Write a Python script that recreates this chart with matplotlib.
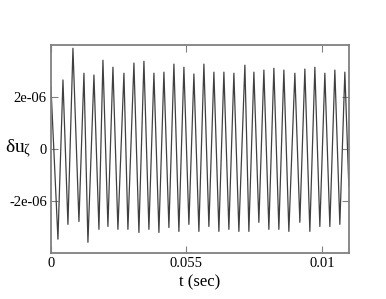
import matplotlib
matplotlib.use("Agg")
import matplotlib.pyplot as plt

plt.rcParams['font.family'] = ['Liberation Serif', 'DejaVu Serif']
plt.rcParams['mathtext.fontset'] = 'custom'
plt.rcParams['mathtext.rm'] = 'Liberation Serif'
plt.rcParams['mathtext.it'] = 'Liberation Serif'

# extrema of the signal (time in s, value in 1e-6)
t = [0.0, 0.000258, 0.000443, 0.000627, 0.000812, 0.001033, 0.001218, 0.001365,
     0.001587, 0.001771, 0.001919, 0.002103, 0.002288, 0.002472, 0.002694, 0.002841,
     0.003063, 0.003247, 0.003432, 0.003616, 0.003801, 0.003985, 0.004170, 0.004354,
     0.004539, 0.004723, 0.004908, 0.005092, 0.005277, 0.005461, 0.005646, 0.005830,
     0.006015, 0.006199, 0.006384, 0.006568, 0.006753, 0.006937, 0.007159, 0.007306,
     0.007491, 0.007675, 0.007860, 0.008044, 0.008229, 0.008413, 0.008598, 0.008782,
     0.009004, 0.009188, 0.009373, 0.009557, 0.009742, 0.009926, 0.010111, 0.010295,
     0.010480, 0.010664, 0.010849, 0.010996]
du = [2.39, -3.47, 2.66, -2.90, 3.88, -2.79, 2.92, -3.59,
      2.85, -3.09, 3.42, -2.98, 3.15, -3.09, 2.92, -3.09,
      3.31, -3.21, 3.38, -3.09, 2.92, -3.21, 2.96, -3.02,
      3.27, -3.17, 3.15, -2.90, 2.89, -3.17, 3.27, -2.98,
      2.96, -3.17, 2.96, -3.09, 2.92, -3.17, 3.23, -3.17,
      2.96, -2.82, 3.04, -3.09, 3.11, -3.09, 3.04, -3.17,
      2.92, -2.82, 3.08, -3.17, 3.15, -2.98, 2.92, -2.98,
      3.04, -2.90, 2.96, -1.44]
du = [v * 1e-6 for v in du]

xticks = [0, 0.005, 0.01]
xticklabels = ['0', '0.055', '0.01']
yticks = [-2e-6, 0, 2e-6]
yticklabels = ['-2e-06', '0', '2e-06']

fig = plt.figure(figsize=(3.86, 2.99), dpi=100)
ax = fig.add_axes([0.132, 0.154, 0.772, 0.695])

ax.plot(t, du, color='0.25', lw=0.9)

ax.set_xlim(0, 0.011)
ax.set_ylim(-4e-6, 4e-6)
ax.set_xticks(xticks)
ax.set_xticklabels(xticklabels)
ax.set_yticks(yticks)
ax.set_yticklabels(yticklabels)

for s in ax.spines.values():
    s.set_color('0.5')
    s.set_linewidth(1.3)
ax.tick_params(direction='in', length=5, width=0.8, color='0.5',
               top=True, right=True, labelsize=10.5, pad=3)

ax.set_xlabel('t (sec)', fontsize=12, labelpad=3)
ax.set_ylabel(r'$\delta u_\zeta$', fontsize=14, rotation=0, va='center', ha='center')
ax.yaxis.set_label_coords(-0.11, 0.5)

fig.savefig('out.png', dpi=100)
